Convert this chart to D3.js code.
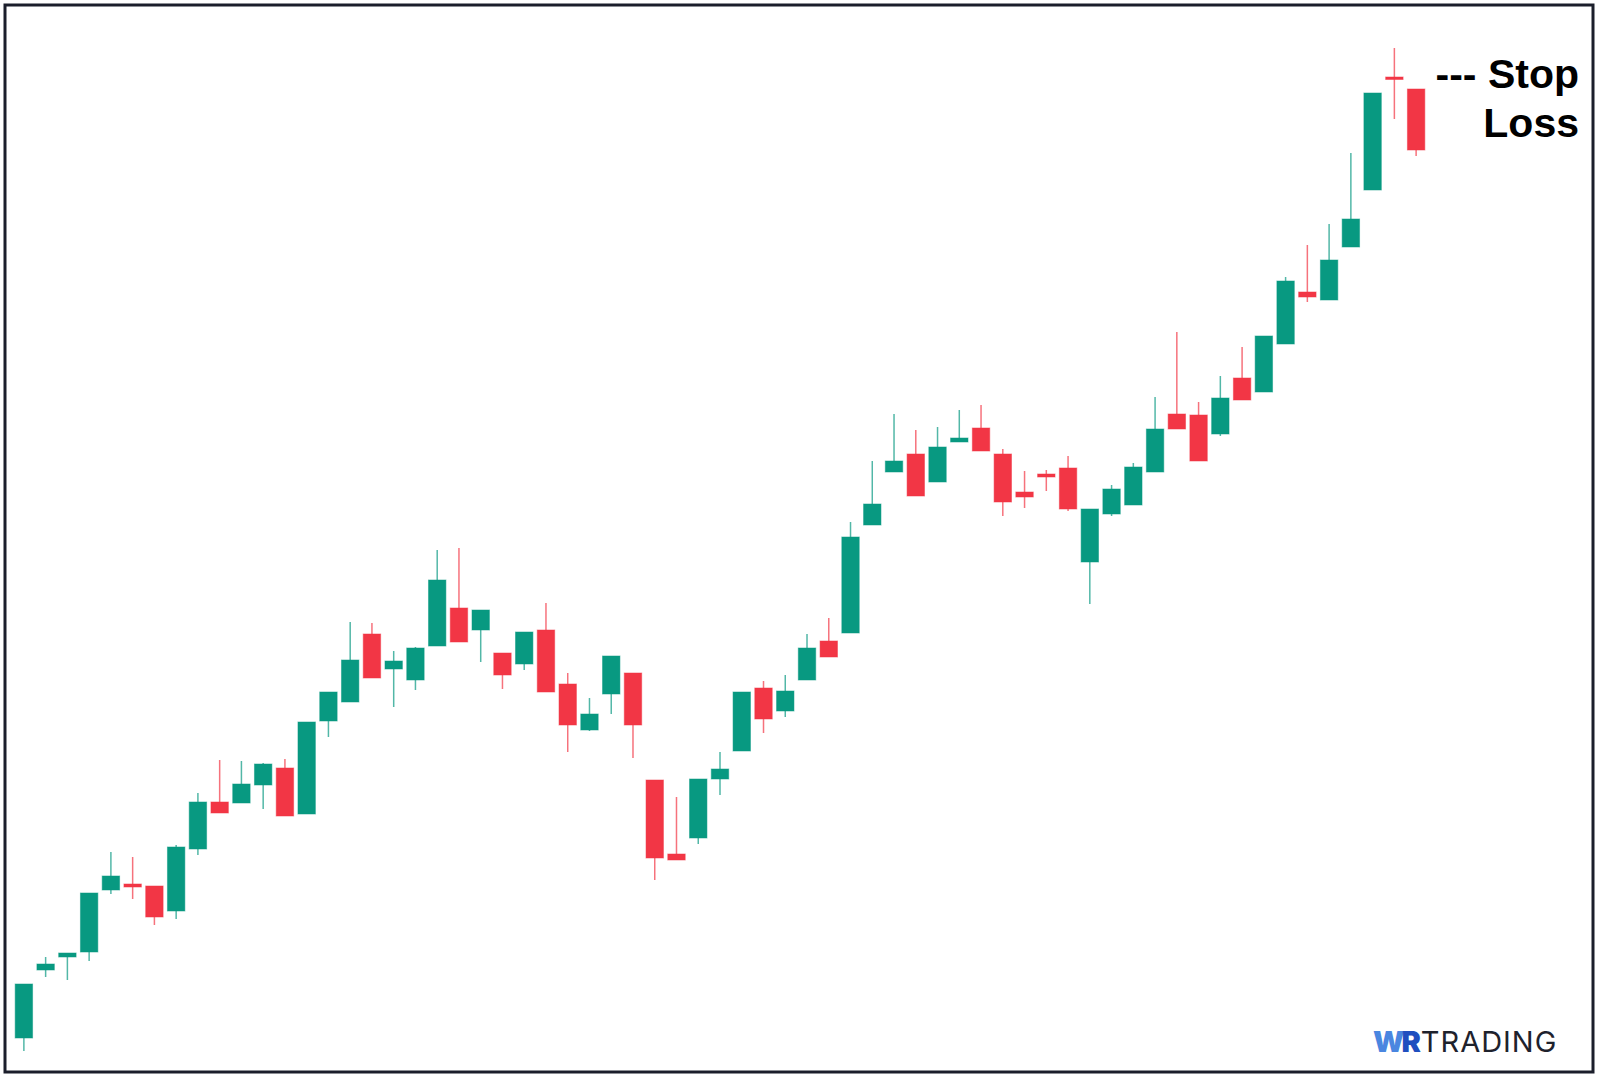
<!DOCTYPE html>
<html><head><meta charset="utf-8">
<script src="https://cdn.jsdelivr.net/npm/d3@7"></script>
<style>html,body{margin:0;padding:0;background:#fff;}</style>
</head><body>
<script>
const opens  = [6.2,13.0,14.3,14.8,21.0,21.6,21.4,18.9,25.1,29.8,29.7,31.5,33.2,28.6,37.9,39.8,46.6,43.1,42.0,45.4,49.2,47.0,44.7,43.6,47.0,41.6,37.0,40.6,42.7,32.0,24.6,26.2,32.1,34.9,41.2,38.9,42.0,45.9,46.7,57.5,62.8,64.6,61.8,65.8,67.2,64.6,60.8,62.6,63.2,53.8,58.6,59.5,62.8,68.6,68.5,66.6,72.2,70.8,75.6,80.8,80.0,85.3,91.0,102.3,101.1];
const closes = [11.6,13.6,14.7,20.7,22.4,21.3,18.3,25.3,29.8,28.7,31.6,33.6,28.4,37.8,40.8,44.0,42.2,43.9,45.2,52.0,45.8,49.0,42.5,46.8,40.8,37.5,38.6,44.4,37.5,24.2,24.0,32.1,33.1,40.8,38.1,40.9,45.2,44.3,56.3,59.6,63.9,60.4,65.3,66.2,64.9,59.8,60.3,62.3,59.1,59.1,61.1,63.3,67.1,67.1,63.9,70.2,70.0,76.4,81.9,80.3,84.0,88.1,100.7,102.2,95.0];
const highs  = [11.6,14.3,14.7,20.7,24.8,24.3,21.4,25.5,30.7,34.0,33.9,33.7,34.1,37.8,40.8,47.8,47.7,44.9,45.3,55.0,55.2,49.0,44.7,46.8,49.7,42.7,40.2,44.4,42.7,32.0,30.3,32.1,34.8,40.8,41.9,42.5,46.6,48.2,57.8,63.9,68.6,67.0,67.3,69.0,69.5,65.1,62.9,63.0,64.4,59.1,61.5,63.7,70.3,76.8,69.8,72.4,75.3,76.4,82.3,85.5,87.6,94.7,100.7,105.2,101.1];
const lows   = [4.9,12.3,12.0,13.9,20.6,20.1,17.5,18.1,24.5,28.7,29.7,29.1,28.4,28.6,36.3,39.8,42.2,39.3,41.0,45.4,45.8,43.8,41.1,43.0,40.8,34.8,36.9,38.6,34.2,22.0,24.0,25.6,30.5,34.9,36.7,38.3,42.0,44.3,46.7,57.5,62.8,60.4,61.8,65.8,64.9,58.4,59.2,60.9,58.9,49.6,58.4,59.5,62.8,67.1,63.9,66.4,70.0,70.8,75.6,79.8,80.0,85.3,91.0,98.1,94.4];
const annotationLines = ["--- Stop", "Loss"];
const logoParts = ["W", "R", "TRADING"];

const W = 1600, H = 1080;
const UP = "#089981", DOWN = "#F23645";
const svg = d3.select("body").append("svg").attr("width", W).attr("height", H);
svg.append("rect").attr("x", 5).attr("y", 5).attr("width", 1588).attr("height", 1067)
  .attr("fill", "#fff").attr("stroke", "#1b1e2b").attr("stroke-width", 3);

const idx = d3.range(opens.length);
const x = d3.scaleBand().domain(idx).range([13, 1427]).paddingInner(0.2).paddingOuter(0.1);
const y = d3.scaleLinear().domain([0, 110]).range([1100, 0]);
const data = idx.map(i => ({i, o: opens[i], c: closes[i], h: highs[i], l: lows[i]}));
const col = d => d.c >= d.o ? UP : DOWN;

const g = svg.append("g");
g.selectAll("line.wick").data(data).join("line").attr("class", "wick")
  .attr("x1", d => x(d.i) + x.bandwidth() / 2).attr("x2", d => x(d.i) + x.bandwidth() / 2)
  .attr("y1", d => y(d.h)).attr("y2", d => y(d.l))
  .attr("stroke", col).attr("stroke-opacity", 0.7).attr("stroke-width", 1.5);
g.selectAll("rect.body").data(data).join("rect").attr("class", "body")
  .attr("x", d => x(d.i)).attr("width", x.bandwidth())
  .attr("y", d => y(Math.max(d.o, d.c)))
  .attr("height", d => Math.max(2.5, Math.abs(y(d.o) - y(d.c))))
  .attr("fill", col).attr("stroke", col).attr("stroke-opacity", 0.5).attr("stroke-width", 1);

const ann = svg.append("text").attr("text-anchor", "end")
  .attr("font-family", "Liberation Sans, Arial, sans-serif").attr("font-weight", "bold")
  .attr("font-size", 41).attr("fill", "#000");
ann.selectAll("tspan").data(annotationLines).join("tspan")
  .attr("x", 1579).attr("y", (d, i) => 88 + i * 49).text(d => d);

const logo = svg.append("text").attr("x", 1373).attr("y", 1052)
  .attr("font-family", "Inter, Roboto, sans-serif").attr("font-size", 29);
logo.append("tspan").attr("font-weight", 900).attr("fill", "#4a86e0").attr("letter-spacing", -3).text(logoParts[0]);
logo.append("tspan").attr("font-weight", 900).attr("fill", "#1f4fbf").attr("letter-spacing", 0).text(logoParts[1]);
logo.append("tspan").attr("font-weight", 400).attr("fill", "#1e222d").attr("letter-spacing", 1).text(logoParts[2]);
</script>
</body></html>
